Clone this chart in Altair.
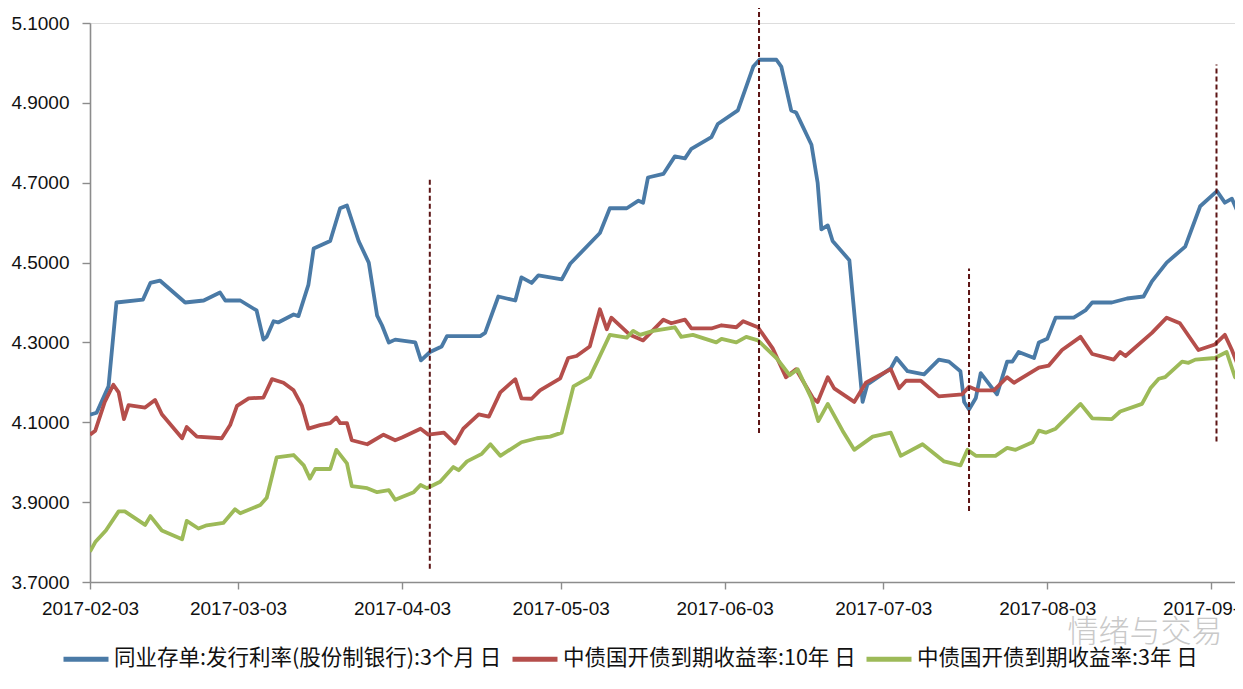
import altair as alt
import pandas as pd

# ---------------- data ----------------
SERIES = ["同业存单:发行利率(股份制银行):3个月 日",
          "中债国开债到期收益率:10年 日",
          "中债国开债到期收益率:3年 日"]
COLORS = ["#4A7AA6", "#B54E4B", "#9DBA58"]

blue_dates = ["2017-02-03", "2017-02-04 06:00", "2017-02-06 12:00", "2017-02-08", "2017-02-13",
              "2017-02-14 10:00", "2017-02-16 05:00", "2017-02-21", "2017-02-24 12:00", "2017-02-27 14:00",
              "2017-02-28 14:00", "2017-03-03 10:00", "2017-03-06 12:00", "2017-03-07 19:00", "2017-03-08 10:00",
              "2017-03-09 17:00", "2017-03-10 14:00", "2017-03-13 12:00", "2017-03-14 10:00", "2017-03-16 07:00",
              "2017-03-17 07:00", "2017-03-20 10:00", "2017-03-22 07:00", "2017-03-23 14:00", "2017-03-25 19:00",
              "2017-03-27 17:00", "2017-03-29 07:00", "2017-03-30 05:00", "2017-03-31 12:00", "2017-04-01 17:00",
              "2017-04-05 12:00", "2017-04-06 14:00", "2017-04-08 07:00", "2017-04-10 12:00", "2017-04-11 12:00",
              "2017-04-17 19:00", "2017-04-18 17:00", "2017-04-21 05:00", "2017-04-22 19:00", "2017-04-24 10:00",
              "2017-04-25 14:00", "2017-04-27 12:00", "2017-04-28 19:00", "2017-05-03 05:00", "2017-05-04 19:00",
              "2017-05-10 10:00", "2017-05-12 07:00", "2017-05-15 12:00", "2017-05-17 17:00", "2017-05-18 14:00",
              "2017-05-19 12:00", "2017-05-22 10:00", "2017-05-24 14:00", "2017-05-26 12:00", "2017-05-27 17:00",
              "2017-05-31 12:00", "2017-06-01 17:00", "2017-06-05 12:00", "2017-06-08 10:00", "2017-06-09 14:00",
              "2017-06-12 19:00", "2017-06-13 17:00", "2017-06-15 14:00", "2017-06-16 12:00", "2017-06-19 10:00",
              "2017-06-20 14:00", "2017-06-21 07:00", "2017-06-22 12:00", "2017-06-23 10:00", "2017-06-26 14:00",
              "2017-06-29 02:00", "2017-06-30", "2017-07-04 10:00", "2017-07-05 12:00", "2017-07-07 14:00",
              "2017-07-10 17:00", "2017-07-13 12:00", "2017-07-15 10:00", "2017-07-17 14:00", "2017-07-18 07:00",
              "2017-07-19 05:00", "2017-07-20 12:00", "2017-07-21 10:00", "2017-07-24 12:00", "2017-07-26 10:00",
              "2017-07-27 10:00", "2017-07-28 14:00", "2017-07-31 12:00", "2017-08-01 10:00", "2017-08-03",
              "2017-08-04 14:00", "2017-08-08", "2017-08-10 05:00", "2017-08-11 12:00", "2017-08-15 05:00",
              "2017-08-18 02:00", "2017-08-21 05:00", "2017-08-22 19:00", "2017-08-25 14:00", "2017-08-29 02:00",
              "2017-08-31 22:00", "2017-09-04 02:00", "2017-09-05 14:00", "2017-09-06 22:00", "2017-09-08 12:00"]
blue_vals = [4.119, 4.124, 4.19, 4.40, 4.407,
             4.449, 4.455, 4.40, 4.405, 4.425,
             4.405, 4.405, 4.38, 4.307, 4.314,
             4.353, 4.35, 4.37, 4.366, 4.444,
             4.535, 4.554, 4.636, 4.643, 4.554,
             4.50, 4.367, 4.343, 4.30, 4.307,
             4.30, 4.255, 4.276, 4.29, 4.316,
             4.316, 4.324, 4.415, 4.41, 4.405,
             4.463, 4.449, 4.468, 4.458, 4.497,
             4.574, 4.636, 4.636, 4.655, 4.65,
             4.713, 4.722, 4.766, 4.761, 4.785,
             4.814, 4.847, 4.881, 4.991, 5.008,
             5.008, 4.991, 4.881, 4.876, 4.795,
             4.70, 4.583, 4.593, 4.554, 4.506,
             4.151, 4.195, 4.235, 4.261, 4.228,
             4.22, 4.257, 4.252, 4.228, 4.151,
             4.132, 4.161, 4.223, 4.17, 4.252,
             4.252, 4.276, 4.261, 4.30, 4.309,
             4.362, 4.362, 4.38, 4.40, 4.40,
             4.41, 4.415, 4.453, 4.50, 4.54,
             4.641, 4.679, 4.65, 4.66, 4.612]

red_dates = ["2017-02-03", "2017-02-04", "2017-02-05 19:00", "2017-02-07 10:00", "2017-02-08 10:00",
             "2017-02-09 10:00", "2017-02-10 07:00", "2017-02-13 10:00", "2017-02-15 07:00", "2017-02-16 14:00",
             "2017-02-20 10:00", "2017-02-21 07:00", "2017-02-23 05:00", "2017-02-27 22:00", "2017-03-01 12:00",
             "2017-03-02 19:00", "2017-03-05", "2017-03-07 19:00", "2017-03-09 10:00", "2017-03-11 14:00",
             "2017-03-13 12:00", "2017-03-15 02:00", "2017-03-16 07:00", "2017-03-18 12:00", "2017-03-20 10:00",
             "2017-03-21 14:00", "2017-03-22 07:00", "2017-03-23 14:00", "2017-03-24 12:00", "2017-03-27 10:00",
             "2017-03-30 12:00", "2017-04-01 17:00", "2017-04-03", "2017-04-06 12:00", "2017-04-08",
             "2017-04-10 22:00", "2017-04-13", "2017-04-14 14:00", "2017-04-17 12:00", "2017-04-19 10:00",
             "2017-04-21 14:00", "2017-04-24 10:00", "2017-04-25 14:00", "2017-04-27 12:00", "2017-04-29 02:00",
             "2017-05-02 22:00", "2017-05-04 10:00", "2017-05-06", "2017-05-08 12:00", "2017-05-10 10:00",
             "2017-05-11 17:00", "2017-05-12 14:00", "2017-05-16 02:00", "2017-05-18 14:00", "2017-05-22 10:00",
             "2017-05-23 22:00", "2017-05-26 12:00", "2017-05-27 17:00", "2017-05-31 12:00", "2017-06-02 10:00",
             "2017-06-05 05:00", "2017-06-06 12:00", "2017-06-09 07:00", "2017-06-12 02:00", "2017-06-14 14:00",
             "2017-06-16 12:00", "2017-06-19 17:00", "2017-06-20 14:00", "2017-06-22 12:00", "2017-06-23 17:00",
             "2017-06-27 12:00", "2017-06-29 17:00", "2017-07-04 10:00", "2017-07-06", "2017-07-07 07:00",
             "2017-07-10 02:00", "2017-07-13 12:00", "2017-07-17 22:00", "2017-07-19 05:00", "2017-07-20 19:00",
             "2017-07-23 22:00", "2017-07-26 10:00", "2017-07-27 17:00", "2017-08-01 10:00", "2017-08-03 07:00",
             "2017-08-05 19:00", "2017-08-09 07:00", "2017-08-11 12:00", "2017-08-15 14:00", "2017-08-16 19:00",
             "2017-08-17 19:00", "2017-08-22 19:00", "2017-08-25 14:00", "2017-08-28 02:00", "2017-08-31 14:00",
             "2017-09-03 17:00", "2017-09-05 14:00", "2017-09-06 22:00", "2017-09-08 12:00"]
red_vals = [4.069, 4.079, 4.151, 4.194, 4.175,
            4.108, 4.143, 4.137, 4.156, 4.12,
            4.06, 4.088, 4.064, 4.06, 4.093,
            4.141, 4.16, 4.162, 4.208, 4.199,
            4.18, 4.141, 4.084, 4.093, 4.098,
            4.112, 4.098, 4.098, 4.055, 4.045,
            4.069, 4.055, 4.062, 4.084, 4.069,
            4.074, 4.047, 4.084, 4.12, 4.114,
            4.175, 4.208, 4.16, 4.159, 4.18,
            4.21, 4.261, 4.266, 4.29, 4.383,
            4.333, 4.362, 4.319, 4.305, 4.357,
            4.348, 4.357, 4.335, 4.335, 4.343,
            4.338, 4.353, 4.338, 4.285, 4.213,
            4.233, 4.16, 4.151, 4.213, 4.185,
            4.151, 4.199, 4.233, 4.185, 4.204,
            4.204, 4.165, 4.17, 4.189, 4.18,
            4.18, 4.213, 4.199, 4.237, 4.242,
            4.281, 4.314, 4.271, 4.257, 4.276,
            4.266, 4.324, 4.362, 4.348, 4.281,
            4.295, 4.319, 4.281, 4.228]

green_dates = ["2017-02-03", "2017-02-04", "2017-02-06", "2017-02-08 10:00", "2017-02-09 14:00",
               "2017-02-13 10:00", "2017-02-14 10:00", "2017-02-16 14:00", "2017-02-20 10:00", "2017-02-21 07:00",
               "2017-02-23 12:00", "2017-02-25 02:00", "2017-02-28 05:00", "2017-03-02 10:00", "2017-03-03 10:00",
               "2017-03-07 05:00", "2017-03-08 10:00", "2017-03-10 07:00", "2017-03-13 12:00", "2017-03-15 10:00",
               "2017-03-16 14:00", "2017-03-17 14:00", "2017-03-20 10:00", "2017-03-21 14:00", "2017-03-23 14:00",
               "2017-03-24 12:00", "2017-03-27 10:00", "2017-03-29 07:00", "2017-03-31 12:00", "2017-04-01 17:00",
               "2017-04-05 05:00", "2017-04-06 12:00", "2017-04-07 17:00", "2017-04-10 05:00", "2017-04-12 17:00",
               "2017-04-13 17:00", "2017-04-15 07:00", "2017-04-18 02:00", "2017-04-19 17:00", "2017-04-21 14:00",
               "2017-04-25 14:00", "2017-04-28 12:00", "2017-05-01", "2017-05-03 05:00", "2017-05-05 10:00",
               "2017-05-08 12:00", "2017-05-10 02:00", "2017-05-12 07:00", "2017-05-15 12:00", "2017-05-16 17:00",
               "2017-05-18", "2017-05-20 12:00", "2017-05-24 14:00", "2017-05-25 19:00", "2017-05-28",
               "2017-06-01 10:00", "2017-06-02 10:00", "2017-06-05 05:00", "2017-06-07 02:00", "2017-06-09 07:00",
               "2017-06-12 19:00", "2017-06-15 07:00", "2017-06-16 19:00", "2017-06-19 10:00", "2017-06-20 17:00",
               "2017-06-22 12:00", "2017-06-25 07:00", "2017-06-27 12:00", "2017-07-01", "2017-07-04 10:00",
               "2017-07-06 07:00", "2017-07-10 10:00", "2017-07-14 12:00", "2017-07-17 14:00", "2017-07-18 22:00",
               "2017-07-20 12:00", "2017-07-24 05:00", "2017-07-26 10:00", "2017-07-28", "2017-07-31 05:00",
               "2017-08-01 10:00", "2017-08-02 17:00", "2017-08-04 14:00", "2017-08-09 07:00", "2017-08-11 12:00",
               "2017-08-15 05:00", "2017-08-16 19:00", "2017-08-20 22:00", "2017-08-22 12:00", "2017-08-24 02:00",
               "2017-08-25 07:00", "2017-08-28 12:00", "2017-08-29 17:00", "2017-08-31", "2017-09-03 17:00",
               "2017-09-05 22:00", "2017-09-07 12:00", "2017-09-08 12:00"]
green_vals = [3.776, 3.80, 3.829, 3.877, 3.877,
              3.843, 3.865, 3.829, 3.807, 3.853,
              3.834, 3.842, 3.848, 3.882, 3.872,
              3.893, 3.911, 4.012, 4.018, 3.992,
              3.959, 3.983, 3.983, 4.031, 3.997,
              3.94, 3.935, 3.925, 3.93, 3.906,
              3.925, 3.943, 3.935, 3.951, 3.988,
              3.98, 4.002, 4.021, 4.045, 4.016,
              4.05, 4.06, 4.064, 4.074, 4.19,
              4.213, 4.257, 4.319, 4.312, 4.329,
              4.319, 4.329, 4.338, 4.314, 4.319,
              4.30, 4.309, 4.30, 4.314, 4.305,
              4.261, 4.218, 4.233, 4.16, 4.103,
              4.146, 4.079, 4.031, 4.064, 4.074,
              4.016, 4.045, 4.002, 3.992, 4.031,
              4.016, 4.016, 4.036, 4.031, 4.05,
              4.079, 4.074, 4.084, 4.146, 4.11,
              4.108, 4.127, 4.146, 4.185, 4.209,
              4.213, 4.252, 4.249, 4.257, 4.261,
              4.276, 4.213, 4.204]

# dashed vertical markers: date, lower value, upper value
mark_dates = ["2017-04-08 06:00", "2017-06-09 12:00", "2017-07-19 05:00", "2017-09-04"]
mark_low = [3.733, 4.073, 3.878, 4.052]
mark_high = [4.713, 5.15, 4.485, 4.996]

y_ticks = [3.7, 3.9, 4.1, 4.3, 4.5, 4.7, 4.9, 5.1]
x_tick_dates = [(2017, m, 3) for m in range(2, 10)]

watermark_text = ["情绪与交易"]
watermark_date = ["2017-08-21 12:00"]
watermark_y = [3.572]


def to_dt(values):
    return pd.to_datetime(values, format="mixed")


# ---------------- tables ----------------
frames = []
for name, d, v in zip(SERIES, [blue_dates, red_dates, green_dates], [blue_vals, red_vals, green_vals]):
    frames.append(pd.DataFrame({"date": to_dt(d), "value": v, "series": name}))
lines_df = pd.concat(frames, ignore_index=True)

marks_df = pd.DataFrame({"date": to_dt(mark_dates), "low": mark_low, "high": mark_high})
wm_df = pd.DataFrame({"date": to_dt(watermark_date), "value": watermark_y, "label": watermark_text})

LABEL_FONT = "Liberation Sans"
CJK_FONT = "Noto Sans CJK SC"

x_scale = alt.Scale(domain=[alt.DateTime(year=2017, month=2, date=3),
                            alt.DateTime(year=2017, month=9, date=7, hours=12)])
y_scale = alt.Scale(domain=[3.7, 5.1], nice=False, zero=False)

x_axis = alt.Axis(values=[alt.DateTime(year=y, month=m, date=d) for y, m, d in x_tick_dates],
                  format="%Y-%m-%d", title=None, labelFont=LABEL_FONT, labelFontSize=19,
                  labelColor="#111111", labelPadding=10, tickSize=7, labelFlush=False,
                  labelOverlap=False, domainColor="#8c8c8c", tickColor="#8c8c8c",
                  domainWidth=1.6, tickWidth=1.4, grid=False)
y_axis = alt.Axis(values=y_ticks, format=".4f", title=None, labelFont=LABEL_FONT, labelFontSize=19,
                  labelColor="#111111", labelPadding=13, tickSize=8, domainColor="#8c8c8c",
                  tickColor="#8c8c8c", domainWidth=1.6, tickWidth=1.4, grid=False)

lines = alt.Chart(lines_df).mark_line(strokeWidth=3.8, clip=True, strokeJoin="round").encode(
    x=alt.X("date:T", scale=x_scale, axis=x_axis),
    y=alt.Y("value:Q", scale=y_scale, axis=y_axis),
    color=alt.Color("series:N",
                    scale=alt.Scale(domain=SERIES, range=COLORS),
                    legend=alt.Legend(orient="none", legendX=-29, legendY=611, direction="horizontal",
                                      title=None, symbolType="stroke", symbolSize=2025,
                                      symbolStrokeWidth=5, labelFont=CJK_FONT, labelFontSize=21.5,
                                      labelColor="#111111", labelLimit=600, labelOffset=3,
                                      columnPadding=0)),
)

rules = alt.Chart(marks_df).mark_rule(color="#5C1414", strokeDash=[5, 3], strokeWidth=2).encode(
    x=alt.X("date:T", scale=x_scale, axis=x_axis),
    y=alt.Y("low:Q", scale=y_scale, axis=y_axis),
    y2="high:Q",
)

watermark = alt.Chart(wm_df).mark_text(font=CJK_FONT, fontSize=31, color="#c9c9c9",
                                       fontWeight=300, align="center", baseline="middle").encode(
    x=alt.X("date:T", scale=x_scale, axis=x_axis),
    y=alt.Y("value:Q", scale=y_scale, axis=y_axis),
    text="label:N",
)

chart = alt.layer(lines, rules, watermark).properties(
    width=1145, height=559,
    padding={"left": 82, "top": 15, "right": 0, "bottom": 100},
    autosize=alt.AutoSizeParams(type="none"),
).configure_view(stroke=None).configure(background="white")

chart.save("out.html", embed_options={"renderer": "svg", "actions": False})
